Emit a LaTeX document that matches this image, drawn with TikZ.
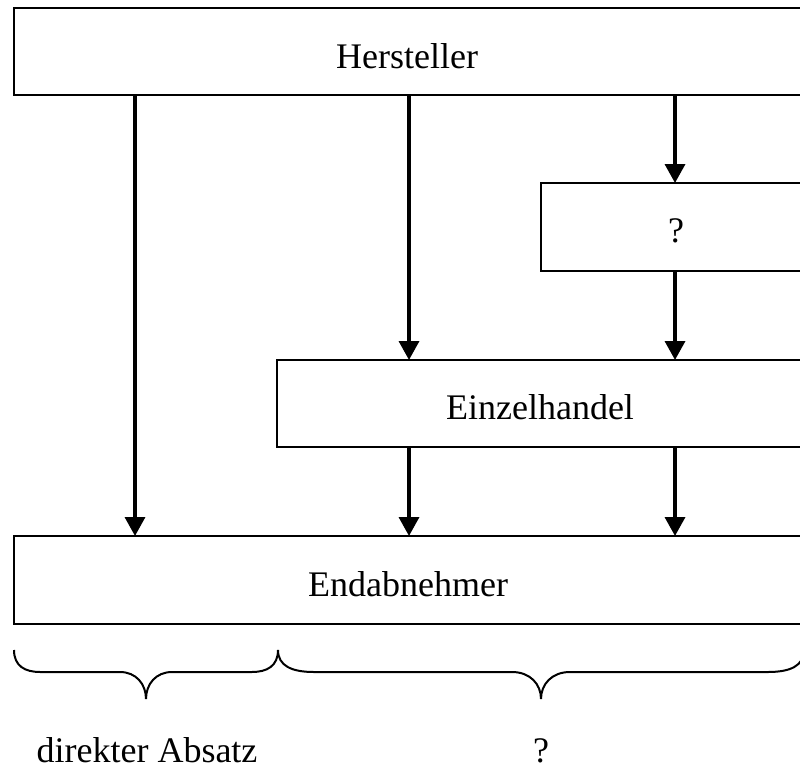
\documentclass[tikz,border=0pt]{standalone}
\usepackage{fontspec}
\setmainfont{Liberation Serif}
\usetikzlibrary{arrows.meta}
\begin{document}
\begin{tikzpicture}[x=1pt,y=-1pt,
  box/.style={draw=black,line width=2.5pt,rectangle,inner sep=0pt,outer sep=0pt,anchor=north west},
  lbl/.style={inner sep=0pt,anchor=base,font=\fontsize{36}{43}\selectfont},
  arr/.style={line width=3.5pt,-{Triangle[length=19pt,width=20pt]}},
  brc/.style={line width=2pt}]
\useasboundingbox (0,0) rectangle (800,771);
\clip (0,0) rectangle (800,771);
\fill[white] (0,0) rectangle (800,771);
% boxes
\node[box,minimum width=796pt,minimum height=87pt] (h) at (14,8) {};
\node[box,minimum width=269pt,minimum height=88pt] (q) at (541,183) {};
\node[box,minimum width=533pt,minimum height=87pt] (ez) at (277,360) {};
\node[box,minimum width=796pt,minimum height=88pt] (ea) at (14,536) {};
% labels
\node[lbl] (th) at (407,68) {Hersteller};
\node[lbl] (tq) at (676,242) {?};
\node[lbl] (tez) at (540,419) {Einzelhandel};
\node[lbl] (tea) at (408,596) {Endabnehmer};
\node[lbl] (td) at (147,762) {direkter Absatz};
\node[lbl] (tr) at (541,762) {?};
% column coordinates
\coordinate (cL) at (135,0);
\coordinate (cM) at (409,0);
\coordinate (cR) at (675,0);
% arrows
\draw[arr] (h.south -| cL) -- (ea.north -| cL);
\draw[arr] (h.south -| cM) -- (ez.north -| cM);
\draw[arr] (h.south -| cR) -- (q.north -| cR);
\draw[arr] (q.south -| cR) -- (ez.north -| cR);
\draw[arr] (ez.south -| cM) -- (ea.north -| cM);
\draw[arr] (ez.south -| cR) -- (ea.north -| cR);
% braces
\coordinate (b1a) at (14,650);
\coordinate (b1t) at (146,699);
\coordinate (b1b) at (278,650);
\coordinate (b2t) at (541,699);
\coordinate (b2b) at (804,650);
\draw[brc] (b1a) .. controls (14,666) and (25,672) .. (40,672) -- (120,672)
  .. controls (136,672) and (146,684) .. (b1t)
  .. controls (146,684) and (156,672) .. (172,672) -- (252,672)
  .. controls (267,672) and (278,666) .. (b1b);
\draw[brc] (b1b) .. controls (278,666) and (292,672) .. (314,672) -- (512,672)
  .. controls (530,672) and (541,684) .. (b2t)
  .. controls (541,684) and (552,672) .. (570,672) -- (768,672)
  .. controls (790,672) and (804,666) .. (b2b);
\end{tikzpicture}
\end{document}
